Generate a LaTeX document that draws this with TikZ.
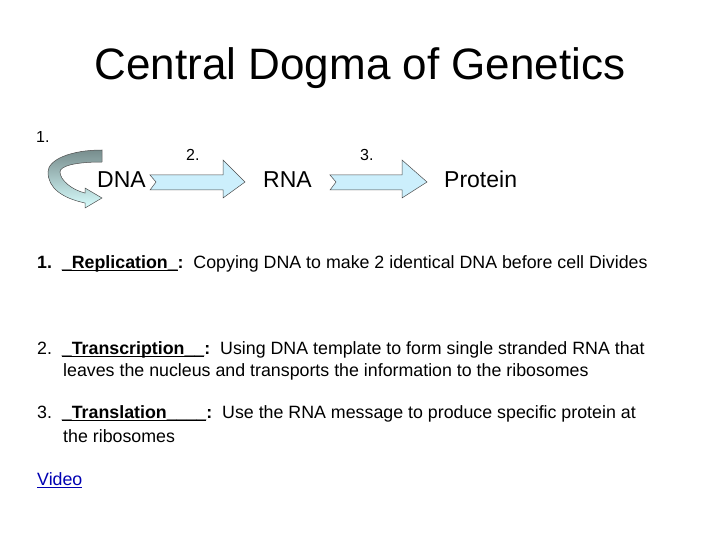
\documentclass[tikz,border=0pt]{standalone}
\usepackage{fontspec}
\setmainfont{Liberation Sans}
\newsavebox\ulbox
\newcommand\myul[1]{\sbox\ulbox{#1}\rlap{\rule[-0.16em]{\wd\ulbox}{0.075em}}\usebox\ulbox}
\begin{document}
\begin{tikzpicture}[x=1pt,y=-1pt,
  lbl/.style={anchor=base west,inner sep=0pt,font=\fontsize{23}{26}\selectfont},
  num/.style={anchor=west,inner sep=0pt,font=\fontsize{16}{18}\selectfont},
  txt/.style={anchor=west,inner sep=0pt,font=\fontsize{17.8}{22}\selectfont},
  fat/.style={draw=black!70,line width=0.5pt,fill=cyan!20!white}]
\useasboundingbox (0,0) rectangle (720,540);
\node[inner sep=0pt,font=\fontsize{44}{50}\selectfont] (title) at (360,68) {Central Dogma of Genetics};
\node[num] (n1) at (36,137) {1.};
\node[num] (n2) at (186,155) {2.};
\node[num] (n3) at (360,155) {3.};
\node[lbl] (dna) at (97,188) {DNA};
\node[lbl] (rna) at (263,188) {RNA};
\node[lbl] (prot) at (444,188) {Protein};
% curved replication arrow
\shade[draw=black!70,line width=0.5pt,top color=gray!80!cyan!60!black!70,bottom color=cyan!15!white]
 (102,150) -- (102,162) .. controls (75,162) and (60,166) .. (60,172)
 .. controls (60,180) and (72,190) .. (85,193) -- (85,188) -- (102,198) -- (85,208) -- (85,203)
 .. controls (62,198) and (48,188) .. (48,172) .. controls (48,160) and (70,150) .. (102,150) -- cycle;
% straight arrows
\draw[fat] (150,175) -- (223,175) -- (223,160) -- (245,182) -- (223,198) -- (223,190) -- (150,190) -- (156,182) -- cycle;
\draw[fat] (330,175) -- (402,175) -- (402,160) -- (427,182) -- (402,198) -- (402,190) -- (330,190) -- (336,182) -- cycle;
% definitions
\node[txt] (d1) at (37,264) {\textbf{1.\ \ \myul{\_Replication\_}:}\ \ Copying DNA to make 2 identical DNA before cell Divides};
\node[txt] (d2) at (37,350) {2.\ \ \textbf{\myul{\_Transcription\_\_}:}\ \ Using DNA template to form single stranded RNA that};
\node[txt] (d2b) at (63,372) {leaves the nucleus and transports the information to the ribosomes};
\node[txt] (d3) at (37,414) {3.\ \ \textbf{\myul{\_Translation\_\_\_\_}:}\ \ Use the RNA message to produce specific protein at};
\node[txt] (d3b) at (63,436) {the ribosomes};
\node[txt,text=blue!70!black] (vid) at (37,480) {\underline{Video}};
\end{tikzpicture}
\end{document}
